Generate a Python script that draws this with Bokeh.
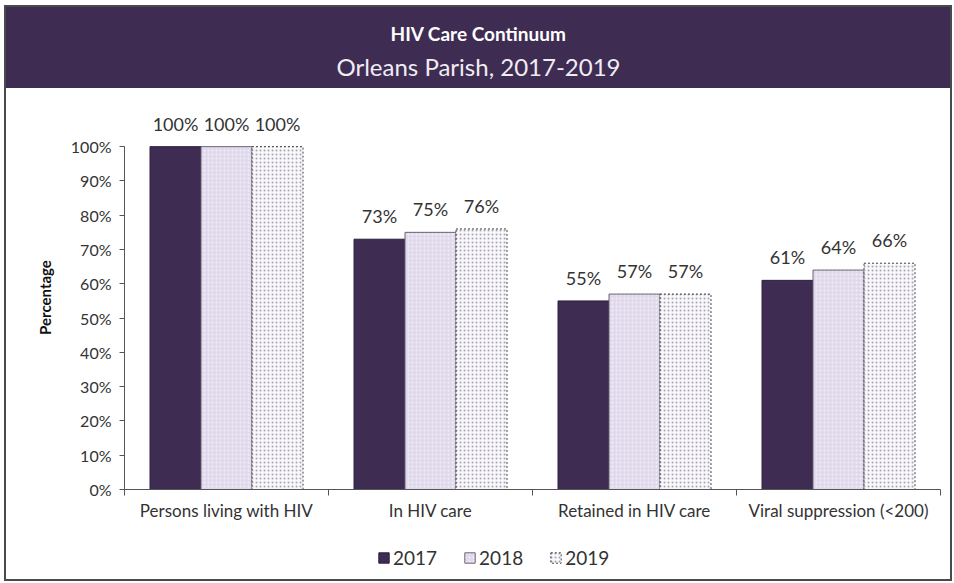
from bokeh.plotting import figure
from bokeh.layouts import column
from bokeh.models import (Range1d, LinearAxis, FixedTicker, NumeralTickFormatter,
                          Legend, LegendItem, ColumnDataSource)
from bokeh.core.properties import value
from bokeh.embed import file_html
from bokeh.resources import INLINE

categories = ["Persons living with HIV", "In HIV care", "Retained in HIV care", "Viral suppression (<200)"]
years = ["2017", "2018", "2019"]
v2017 = [1.00, 0.73, 0.55, 0.61]
v2018 = [1.00, 0.75, 0.57, 0.64]
v2019 = [1.00, 0.76, 0.57, 0.66]
y_ticks = [0.0, 0.1, 0.2, 0.3, 0.4, 0.5, 0.6, 0.7, 0.8, 0.9, 1.0]
title_text = "HIV Care Continuum"
subtitle_text = "Orleans Parish, 2017-2019"

FONT = "Lato"
PURPLE = "#3e2c52"
W = 944
BL, BR = 118, 10          # left / right borders shared by all rows

STYLES = {
    "2017": dict(fill_color=PURPLE, line_color="#2e2040", line_width=1),
    "2018": dict(fill_color="#e0d9eb", line_color="#6a6272", line_width=1,
                 hatch_pattern="dot", hatch_color="#f4f0fa", hatch_scale=4, hatch_weight=1),
    "2019": dict(fill_color="#f8f7fa", line_color="#444444", line_width=1, line_dash="2 2",
                 hatch_pattern="dot", hatch_color="#a9a2b3", hatch_scale=4, hatch_weight=1),
}

# ---------------- header ----------------
h = figure(width=W, height=81, output_backend="svg", toolbar_location=None,
           x_range=Range1d(BL, W - BR), y_range=Range1d(81, 0),
           min_border_left=BL, min_border_right=BR, min_border_top=0, min_border_bottom=0,
           styles={"background-color": PURPLE})
h.axis.visible = False
h.grid.visible = False
h.outline_line_color = None
h.background_fill_color = PURPLE
h.border_fill_color = PURPLE
h.text(x=[W / 2], y=[26], text=[title_text], text_align="center", text_baseline="middle",
       text_color="white", text_font=value(FONT), text_font_size="19px", text_font_style="bold")
h.text(x=[W / 2], y=[59], text=[subtitle_text], text_align="center", text_baseline="middle",
       text_color="#f0ecf4", text_font=value(FONT), text_font_size="24px")

# ---------------- main chart ----------------
n = len(categories)
centers = [i + 0.5 for i in range(n)]

p = figure(width=W, height=447, output_backend="svg", toolbar_location=None,
           x_range=Range1d(0, n), y_range=Range1d(0, 1.12),
           min_border_left=BL, min_border_right=BR, min_border_top=17, min_border_bottom=46)
p.xaxis.visible = False
p.grid.visible = False
p.outline_line_color = None
p.background_fill_color = "white"
p.border_fill_color = "white"

yax = p.yaxis[0]
yax.bounds = (0, 1)
yax.ticker = FixedTicker(ticks=y_ticks)
yax.formatter = NumeralTickFormatter(format="0%")
yax.minor_tick_line_color = None
yax.major_tick_in = 0
yax.major_tick_out = 5
yax.major_label_standoff = 8
yax.axis_line_color = "#555555"
yax.major_tick_line_color = "#555555"
yax.major_label_text_font = FONT
yax.major_label_text_font_size = "16px"
yax.major_label_text_color = "#333333"
yax.axis_label = "Percentage"
yax.axis_label_text_font = FONT
yax.axis_label_text_font_size = "15px"
yax.axis_label_text_font_style = "bold"
yax.axis_label_text_color = "#111111"
yax.axis_label_standoff = 14

bounds = list(range(n + 1))
tick_ax = LinearAxis(ticker=FixedTicker(ticks=bounds))
tick_ax.major_label_overrides = {b: "" for b in bounds}
tick_ax.major_label_text_font_size = "4px"
tick_ax.major_label_standoff = 0
tick_ax.minor_tick_line_color = None
tick_ax.major_tick_in = 0
tick_ax.major_tick_out = 6
tick_ax.axis_line_color = "#555555"
tick_ax.major_tick_line_color = "#555555"
p.add_layout(tick_ax, "below")

cat_ax = LinearAxis(ticker=FixedTicker(ticks=centers))
cat_ax.major_label_overrides = {c: lab for c, lab in zip(centers, categories)}
cat_ax.axis_line_color = None
cat_ax.major_tick_line_color = None
cat_ax.minor_tick_line_color = None
cat_ax.major_tick_out = 0
cat_ax.major_tick_in = 0
cat_ax.major_label_standoff = 4
cat_ax.major_label_text_font = FONT
cat_ax.major_label_text_font_size = "17px"
cat_ax.major_label_text_color = "#333333"
p.add_layout(cat_ax, "below")

src = ColumnDataSource(data=dict(
    x2017=[c - 0.25 for c in centers], x2018=centers, x2019=[c + 0.25 for c in centers],
    v2017=v2017, v2018=v2018, v2019=v2019,
    l2017=[f"{round(v*100)}%" for v in v2017],
    l2018=[f"{round(v*100)}%" for v in v2018],
    l2019=[f"{round(v*100)}%" for v in v2019]))

for col in years:
    p.vbar(x="x" + col, top="v" + col, width=0.25, source=src, **STYLES[col])
    p.text(x="x" + col, y="v" + col, text="l" + col, source=src,
           text_align="center", text_baseline="bottom", y_offset=-12,
           text_font=value(FONT), text_font_size="18px", text_color="#333333")

# ---------------- legend row ----------------
lg = figure(width=W, height=44, output_backend="svg", toolbar_location=None,
            x_range=Range1d(10, 11), y_range=Range1d(10, 11),
            min_border_left=BL, min_border_right=BR, min_border_top=0, min_border_bottom=0)
lg.axis.visible = False
lg.grid.visible = False
lg.outline_line_color = None
lrs = [lg.vbar(x="x" + y, top="v" + y, width=0.25, source=src, **STYLES[y]) for y in years]
legend = Legend(items=[LegendItem(label=y, renderers=[r]) for y, r in zip(years, lrs)],
                orientation="horizontal", location=(253, 10),
                label_text_font=FONT, label_text_font_size="19px", label_text_color="#333333",
                glyph_width=13, glyph_height=13, spacing=26, label_standoff=3,
                border_line_color=None, background_fill_alpha=0, padding=0, margin=0)
lg.add_layout(legend, "center")

layout = column(h, p, lg, spacing=0, margin=(5, 0, 0, 4),
                styles={"border": "2px solid #4a4a4a"})

open("out.html", "w").write(file_html(layout, INLINE))
